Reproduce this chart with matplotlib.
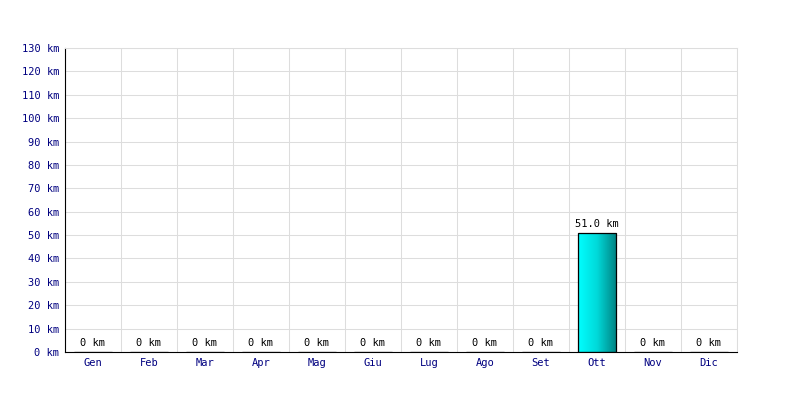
import numpy as np
import matplotlib
matplotlib.use("Agg")
import matplotlib.pyplot as plt
from matplotlib.colors import LinearSegmentedColormap

months = ['Gen', 'Feb', 'Mar', 'Apr', 'Mag', 'Giu', 'Lug', 'Ago', 'Set', 'Ott', 'Nov', 'Dic']
km = [0, 0, 0, 0, 0, 0, 0, 0, 0, 51.0, 0, 0]
yticks = list(range(0, 131, 10))

plt.rcParams['font.family'] = 'DejaVu Sans Mono'

fig = plt.figure(figsize=(8, 4), dpi=100)
ax = fig.add_axes([65 / 800, 48 / 400, 672 / 800, 304 / 400])

x = np.arange(len(months))
bars = ax.bar(x, km, width=0.68, facecolor='none', edgecolor='black', linewidth=0.9, zorder=3)

# horizontal gradient cyan -> teal inside each bar
cmap = LinearSegmentedColormap.from_list('teal', ['#00ffff', '#00d8d8', '#008080'])
grad = np.linspace(0, 1, 256).reshape(1, -1)
for b in bars:
    if b.get_height() <= 0:
        continue
    x0, w, h = b.get_x(), b.get_width(), b.get_height()
    im = ax.imshow(grad, cmap=cmap, aspect='auto', extent=[x0, x0 + w, 0, h], zorder=2)
    im.set_clip_path(b)

for xi, v in zip(x, km):
    label = f'{v:.1f} km' if v > 0 else '0 km'
    ax.text(xi, v + 1.5, label, ha='center', va='bottom', fontsize=7.5, color='black')

ax.set_xlim(-0.5, len(months) - 0.5)
ax.set_ylim(0, 130)
ax.set_yticks(yticks)
ax.set_yticklabels([f'{t} km' for t in yticks], color='#000080', fontsize=7.5)
ax.set_xticks(x)
ax.set_xticklabels(months, color='#000080', fontsize=7.5)
ax.set_xticks(np.arange(-0.5, len(months), 1), minor=True)
ax.tick_params(axis='both', which='both', length=0, pad=4)

ax.grid(axis='y', which='major', color='#dddddd', linewidth=0.75, zorder=0)
ax.grid(axis='x', which='minor', color='#dddddd', linewidth=0.75, zorder=0)
ax.set_axisbelow(True)

ax.spines['left'].set_color('black')
ax.spines['bottom'].set_color('black')
ax.spines['top'].set_color('#dddddd')
ax.spines['right'].set_color('#dddddd')
ax.spines['top'].set_linewidth(0.75)
ax.spines['right'].set_linewidth(0.75)

fig.savefig('out.png', dpi=100)
